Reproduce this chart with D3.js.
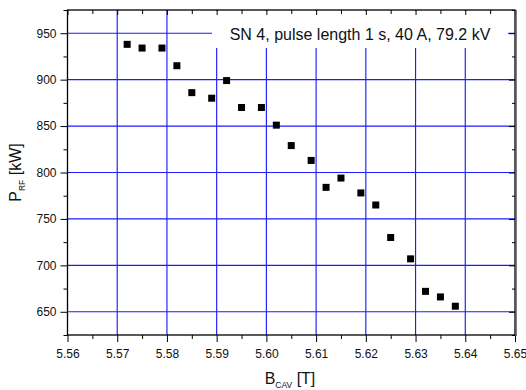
<!DOCTYPE html>
<html>
<head>
<meta charset="utf-8">
<script src="https://d3js.org/d3.v7.min.js"></script>
<style>
  body { margin: 0; background: #fff; }
  svg { display: block; font-family: "Liberation Sans", Arial, sans-serif; }
</style>
</head>
<body>
<script>
var bCav = [5.572, 5.575, 5.579, 5.582, 5.585, 5.589, 5.592, 5.595, 5.599, 5.602, 5.605,
            5.609, 5.612, 5.615, 5.619, 5.622, 5.625, 5.629, 5.632, 5.635, 5.638];
var pRf  = [938, 934, 934, 915, 886, 880, 899, 870, 870, 851, 829,
            813, 784, 794, 778, 765, 730, 707, 672, 666, 656];

var xTicks = ["5.56", "5.57", "5.58", "5.59", "5.60", "5.61", "5.62", "5.63", "5.64", "5.65"];
var yTicks = [650, 700, 750, 800, 850, 900, 950];
var legendText = "SN 4, pulse length 1 s, 40 A, 79.2 kV";

var width = 526, height = 390;
var pLeft = 67.5, pRight = 515, pTop = 10, pBottom = 335;

var svg = d3.select("body").append("svg")
    .attr("width", width)
    .attr("height", height);

var x = d3.scaleLinear().domain([5.56, 5.65]).range([pLeft, pRight]);
var y = d3.scaleLinear().domain([625, 975]).range([pBottom, pTop]);

var xMajor = xTicks.map(Number),
    xMinor = xMajor.slice(0, -1).map(function(d) { return +(d + 0.005).toFixed(3); }),
    yMinor = [625].concat(yTicks.map(function(d) { return d + 25; }));

// grid
var grid = svg.append("g").attr("class", "grid")
    .attr("stroke", "#1c1cff")
    .attr("stroke-width", 1.15);
grid.selectAll(".vx")
    .data(xMajor.slice(1, -1))
  .enter().append("line")
    .attr("x1", function(d) { return x(d); })
    .attr("x2", function(d) { return x(d); })
    .attr("y1", pTop)
    .attr("y2", pBottom);
grid.selectAll(".hy")
    .data(yTicks)
  .enter().append("line")
    .attr("x1", pLeft)
    .attr("x2", pRight)
    .attr("y1", function(d) { return y(d); })
    .attr("y2", function(d) { return y(d); });

// legend box covers the grid
svg.append("rect")
    .attr("x", 212).attr("y", pTop + 1)
    .attr("width", 296).attr("height", 37)
    .attr("fill", "#fff");
svg.append("text")
    .attr("x", 360).attr("y", 40)
    .attr("text-anchor", "middle")
    .attr("font-size", 16)
    .attr("fill", "#111")
    .text(legendText);

// axes
function styleAxis(g) {
  g.select(".domain").remove();
  g.selectAll(".tick line").attr("stroke", "#000");
  g.selectAll("text").attr("font-size", 12).attr("fill", "#111")
    .attr("font-family", "Liberation Sans, Arial, sans-serif");
}

svg.append("g")
    .attr("transform", "translate(0," + pBottom + ")")
    .call(d3.axisBottom(x).tickValues(xMajor).tickSize(7).tickPadding(7)
      .tickFormat(d3.format(".2f")))
    .call(styleAxis);
svg.append("g")
    .attr("transform", "translate(0," + pBottom + ")")
    .call(d3.axisBottom(x).tickValues(xMinor).tickSize(4).tickFormat(""))
    .call(styleAxis);
svg.append("g")
    .attr("transform", "translate(0," + pTop + ")")
    .call(d3.axisTop(x).tickValues(xMajor).tickSize(-5).tickFormat(""))
    .call(styleAxis);
svg.append("g")
    .attr("transform", "translate(0," + pTop + ")")
    .call(d3.axisTop(x).tickValues(xMinor).tickSize(-4).tickFormat(""))
    .call(styleAxis);

svg.append("g")
    .attr("transform", "translate(" + pLeft + ",0)")
    .call(d3.axisLeft(y).tickValues(yTicks).tickSize(7).tickPadding(4))
    .call(styleAxis);
svg.append("g")
    .attr("transform", "translate(" + pLeft + ",0)")
    .call(d3.axisLeft(y).tickValues(yMinor).tickSize(4).tickFormat(""))
    .call(styleAxis);
svg.append("g")
    .attr("transform", "translate(" + pRight + ",0)")
    .call(d3.axisRight(y).tickValues(yTicks).tickSize(-6).tickFormat(""))
    .call(styleAxis);
svg.append("g")
    .attr("transform", "translate(" + pRight + ",0)")
    .call(d3.axisRight(y).tickValues(yMinor).tickSize(-3).tickFormat(""))
    .call(styleAxis);

// frame
svg.append("rect")
    .attr("x", pLeft).attr("y", pTop)
    .attr("width", pRight - pLeft).attr("height", pBottom - pTop)
    .attr("fill", "none")
    .attr("stroke", "#000")
    .attr("stroke-width", 1.3);
svg.append("line")
    .attr("x1", pRight + 1).attr("x2", pRight + 1)
    .attr("y1", pTop).attr("y2", pBottom + 1)
    .attr("stroke", "#555").attr("stroke-width", 1.5);

// points
svg.append("g").selectAll("rect")
    .data(bCav.map(function(d, i) { return [d, pRf[i]]; }))
  .enter().append("rect")
    .attr("x", function(d) { return x(d[0]) - 3.5; })
    .attr("y", function(d) { return y(d[1]) - 3.5; })
    .attr("width", 7).attr("height", 7)
    .attr("fill", "#000");

// axis titles
var xt = svg.append("text")
    .attr("x", 290).attr("y", 384)
    .attr("text-anchor", "middle")
    .attr("font-size", 16)
    .attr("fill", "#111");
xt.append("tspan").text("B");
xt.append("tspan").attr("font-size", 8.5).attr("dy", 4).text("CAV");
xt.append("tspan").attr("dy", -4).text(" [T]");

var yt = svg.append("text")
    .attr("transform", "translate(21," + ((pTop + pBottom) / 2) + ") rotate(-90)")
    .attr("text-anchor", "middle")
    .attr("font-size", 16)
    .attr("fill", "#111");
yt.append("tspan").text("P");
yt.append("tspan").attr("font-size", 8.5).attr("dy", 4).text("RF");
yt.append("tspan").attr("dy", -4).text(" [kW]");
</script>
</body>
</html>
